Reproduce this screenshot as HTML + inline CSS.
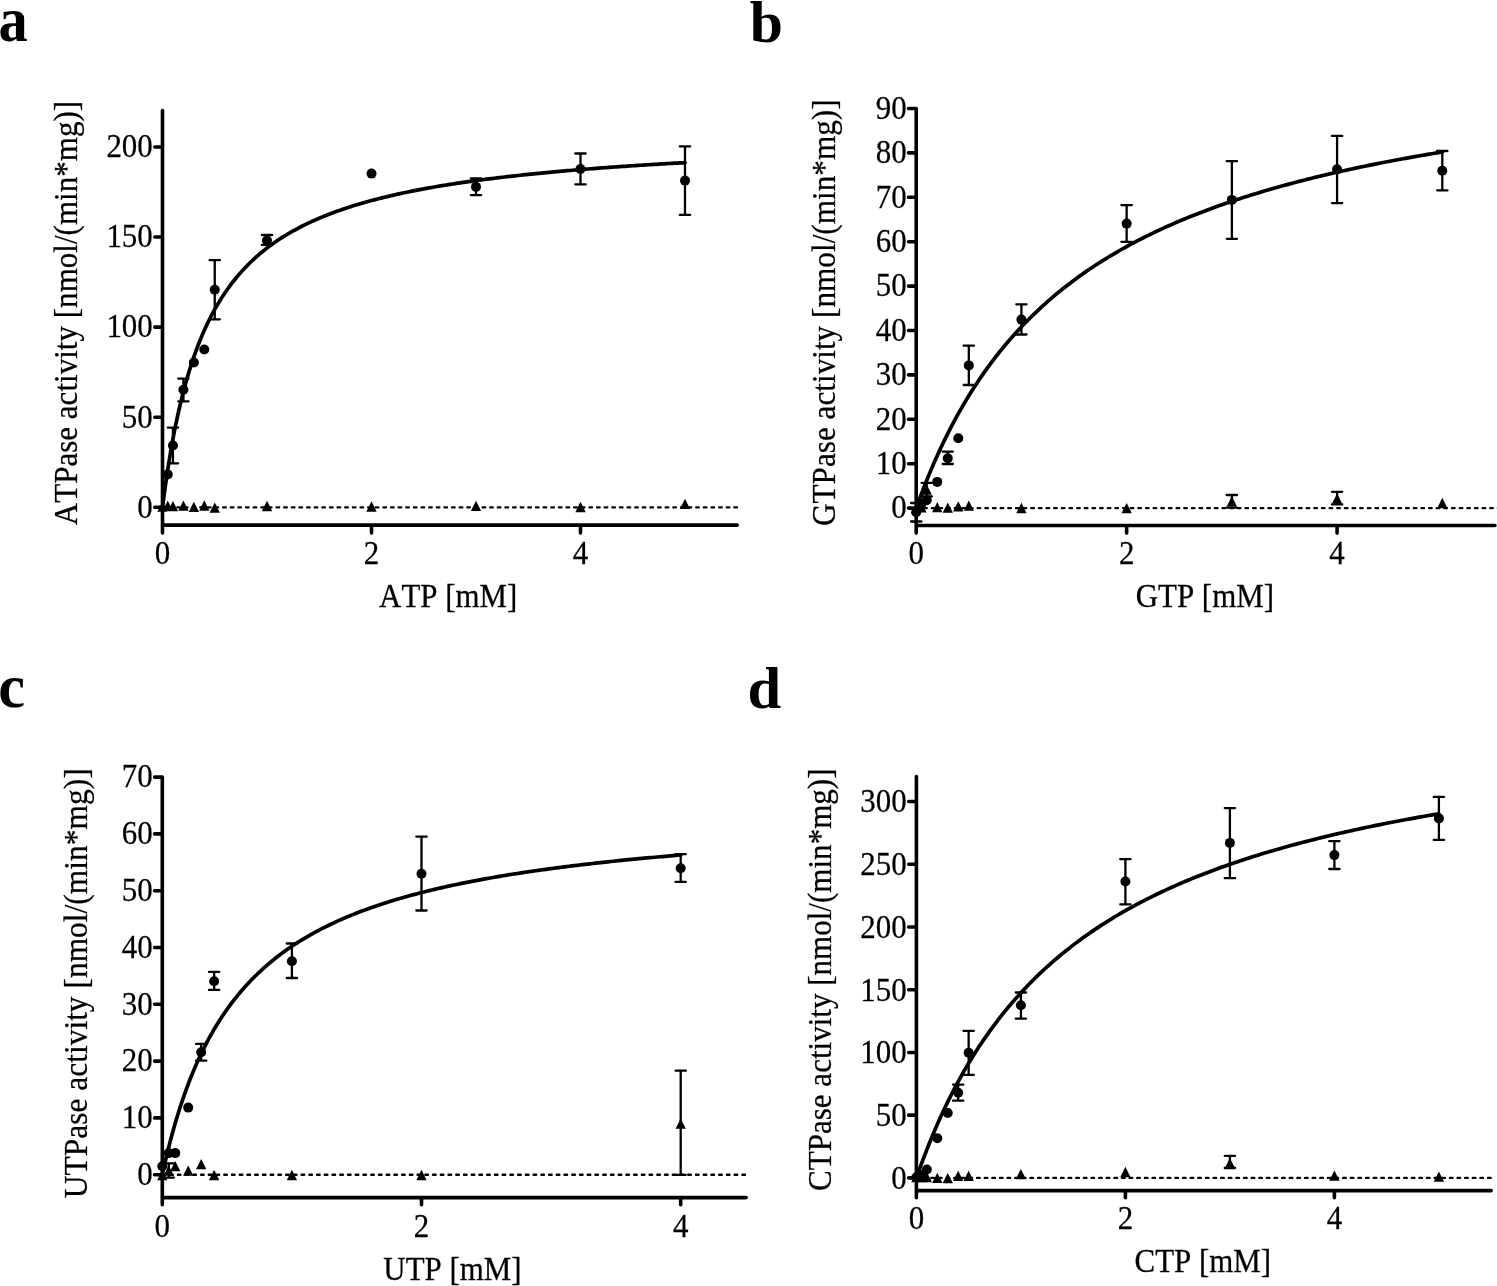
<!DOCTYPE html>
<html><head><meta charset="utf-8"><title>NTPase activity</title>
<style>
html,body{margin:0;padding:0;background:#fff;}
body{width:1497px;height:1286px;overflow:hidden;}
svg{display:block;will-change:transform;}
text{font-family:"Liberation Serif",serif;font-size:32px;fill:#000;font-kerning:none;stroke:#000;stroke-width:0.25px;}
</style></head><body>
<svg width="1497" height="1286" viewBox="0 0 1497 1286">
<rect width="1497" height="1286" fill="#fff"/>
<g id="pa">
<path d="M162.12 507.30H737.75" stroke="#000" stroke-width="2.35" stroke-dasharray="2.6 5.030" stroke-linecap="round" fill="none"/>
<path d="M162.50 110.60V533.00M162.50 525.10H737.25M154.80 507.30H162.50M154.80 417.23H162.50M154.80 327.15H162.50M154.80 237.07H162.50M154.80 147.00H162.50M162.50 525.10V533.00M371.50 525.10V533.00M580.50 525.10V533.00" stroke="#000" stroke-width="3.6" stroke-linecap="round" fill="none"/>
<text transform="translate(152.80 517.60) scale(0.967,1.05)" text-anchor="end">0</text>
<text transform="translate(152.80 427.53) scale(0.967,1.05)" text-anchor="end">50</text>
<text transform="translate(152.80 337.45) scale(0.967,1.05)" text-anchor="end">100</text>
<text transform="translate(152.80 247.38) scale(0.967,1.05)" text-anchor="end">150</text>
<text transform="translate(152.80 157.30) scale(0.967,1.05)" text-anchor="end">200</text>
<text transform="translate(162.50 564.00) scale(0.967,1.05)" text-anchor="middle">0</text>
<text transform="translate(371.50 564.00) scale(0.967,1.05)" text-anchor="middle">2</text>
<text transform="translate(580.50 564.00) scale(0.967,1.05)" text-anchor="middle">4</text>
<text transform="translate(448.20 606.50) scale(0.967,1.05)" text-anchor="middle">ATP [mM]</text>
<text transform="translate(76.90 313.05) rotate(-90) scale(0.9708,1.02)" text-anchor="middle">ATPase activity [nmol/(min*mg)]</text>
<text transform="translate(-1.40 41.40) scale(0.975,1.044)" style="font-weight:bold;font-size:60px;stroke-width:0">a</text>
<path d="M162.50 507.30L165.11 487.49L167.72 469.66L170.34 453.54L172.95 438.88L175.56 425.50L178.18 413.24L180.79 401.96L183.40 391.55L186.01 381.91L188.62 372.96L191.24 364.63L193.85 356.85L196.46 349.58L199.07 342.76L201.69 336.36L204.30 330.33L206.91 324.65L209.53 319.28L212.14 314.21L214.75 309.40L217.36 304.84L219.97 300.51L222.59 296.38L225.20 292.46L227.81 288.72L230.43 285.15L233.04 281.73L235.65 278.47L238.26 275.34L240.88 272.35L243.49 269.47L246.10 266.72L248.71 264.07L251.32 261.52L253.94 259.07L256.55 256.71L259.16 254.43L261.77 252.24L264.39 250.12L267.00 248.08L269.61 246.10L272.23 244.20L274.84 242.35L277.45 240.56L280.06 238.83L282.68 237.16L285.29 235.54L287.90 233.96L290.51 232.43L293.12 230.95L295.74 229.51L298.35 228.11L300.96 226.75L303.58 225.43L306.19 224.15L308.80 222.90L311.41 221.68L314.02 220.50L316.64 219.34L319.25 218.22L321.86 217.12L324.48 216.05L327.09 215.01L329.70 214.00L332.31 213.00L334.92 212.04L337.54 211.09L340.15 210.17L342.76 209.26L345.38 208.38L347.99 207.52L350.60 206.68L353.21 205.85L355.83 205.05L358.44 204.26L361.05 203.48L363.66 202.73L366.27 201.99L368.89 201.26L371.50 200.55L374.11 199.86L376.73 199.17L379.34 198.51L381.95 197.85L384.56 197.21L387.17 196.58L389.79 195.96L392.40 195.35L395.01 194.76L397.62 194.17L400.24 193.60L402.85 193.04L405.46 192.48L408.08 191.94L410.69 191.41L413.30 190.88L415.91 190.37L418.53 189.86L421.14 189.37L423.75 188.88L426.36 188.40L428.97 187.92L431.59 187.46L434.20 187.00L436.81 186.55L439.43 186.11L442.04 185.67L444.65 185.24L447.26 184.82L449.88 184.41L452.49 184.00L455.10 183.60L457.71 183.20L460.32 182.81L462.94 182.42L465.55 182.05L468.16 181.67L470.78 181.30L473.39 180.94L476.00 180.59L478.61 180.23L481.22 179.89L483.84 179.54L486.45 179.21L489.06 178.88L491.68 178.55L494.29 178.22L496.90 177.91L499.51 177.59L502.12 177.28L504.74 176.97L507.35 176.67L509.96 176.37L512.58 176.08L515.19 175.79L517.80 175.50L520.41 175.22L523.03 174.94L525.64 174.67L528.25 174.39L530.86 174.13L533.47 173.86L536.09 173.60L538.70 173.34L541.31 173.08L543.92 172.83L546.54 172.58L549.15 172.34L551.76 172.09L554.38 171.85L556.99 171.61L559.60 171.38L562.21 171.15L564.83 170.92L567.44 170.69L570.05 170.47L572.66 170.24L575.28 170.03L577.89 169.81L580.50 169.59L583.11 169.38L585.72 169.17L588.34 168.97L590.95 168.76L593.56 168.56L596.17 168.36L598.79 168.16L601.40 167.96L604.01 167.77L606.62 167.58L609.24 167.39L611.85 167.20L614.46 167.01L617.08 166.83L619.69 166.65L622.30 166.47L624.91 166.29L627.53 166.11L630.14 165.94L632.75 165.76L635.36 165.59L637.97 165.42L640.59 165.26L643.20 165.09L645.81 164.93L648.42 164.76L651.04 164.60L653.65 164.44L656.26 164.28L658.88 164.13L661.49 163.97L664.10 163.82L666.71 163.66L669.33 163.51L671.94 163.36L674.55 163.22L677.16 163.07L679.77 162.92L682.39 162.78L685.00 162.64" stroke="#000" stroke-width="3.7" stroke-linecap="round" stroke-linejoin="round" fill="none"/>
<path d="M172.95 427.60V463.40M167.80 427.60h10.3M167.80 463.40h10.3M183.40 378.60V401.30M178.25 378.60h10.3M178.25 401.30h10.3M214.75 260.20V319.30M209.60 260.20h10.3M209.60 319.30h10.3M267.00 235.00V244.80M261.85 235.00h10.3M261.85 244.80h10.3M476.00 178.50V195.10M470.85 178.50h10.3M470.85 195.10h10.3M580.50 153.50V184.40M575.35 153.50h10.3M575.35 184.40h10.3M685.00 146.40V214.90M679.85 146.40h10.3M679.85 214.90h10.3" stroke="#000" stroke-width="2.3" stroke-linecap="round" fill="none"/>
<circle cx="167.72" cy="474.40" r="5.0"/>
<circle cx="172.95" cy="445.50" r="5.0"/>
<circle cx="183.40" cy="389.80" r="5.0"/>
<circle cx="193.85" cy="362.50" r="5.0"/>
<circle cx="204.30" cy="349.50" r="5.0"/>
<circle cx="214.75" cy="289.80" r="5.0"/>
<circle cx="267.00" cy="240.50" r="5.0"/>
<circle cx="371.50" cy="173.60" r="5.0"/>
<circle cx="476.00" cy="186.90" r="5.0"/>
<circle cx="580.50" cy="169.00" r="5.0"/>
<circle cx="685.00" cy="180.60" r="5.0"/>
<path d="M157.35 511.65L167.65 511.65L162.50 501.35Z"/>
<path d="M162.57 510.85L172.88 510.85L167.72 500.55Z"/>
<path d="M167.80 511.35L178.10 511.35L172.95 501.05Z"/>
<path d="M178.25 510.75L188.55 510.75L183.40 500.45Z"/>
<path d="M188.70 512.05L199.00 512.05L193.85 501.75Z"/>
<path d="M199.15 510.65L209.45 510.65L204.30 500.35Z"/>
<path d="M209.60 512.85L219.90 512.85L214.75 502.55Z"/>
<path d="M261.85 511.15L272.15 511.15L267.00 500.85Z"/>
<path d="M366.35 511.65L376.65 511.65L371.50 501.35Z"/>
<path d="M470.85 511.05L481.15 511.05L476.00 500.75Z"/>
<path d="M575.35 512.15L585.65 512.15L580.50 501.85Z"/>
<path d="M679.85 509.05L690.15 509.05L685.00 498.75Z"/>
</g>
<g id="pb">
<path d="M916.50 508.10H1497.91" stroke="#000" stroke-width="2.35" stroke-dasharray="2.6 5.050" stroke-linecap="round" fill="none"/>
<path d="M916.20 108.50V533.10M916.20 525.45H1494.91M908.50 508.10H916.20M908.50 463.70H916.20M908.50 419.30H916.20M908.50 374.90H916.20M908.50 330.50H916.20M908.50 286.10H916.20M908.50 241.70H916.20M908.50 197.30H916.20M908.50 152.90H916.20M908.50 108.50H916.20M916.20 525.45V533.10M1126.64 525.45V533.10M1337.08 525.45V533.10" stroke="#000" stroke-width="3.6" stroke-linecap="round" fill="none"/>
<text transform="translate(906.60 518.40) scale(0.967,1.05)" text-anchor="end">0</text>
<text transform="translate(906.60 474.00) scale(0.967,1.05)" text-anchor="end">10</text>
<text transform="translate(906.60 429.60) scale(0.967,1.05)" text-anchor="end">20</text>
<text transform="translate(906.60 385.20) scale(0.967,1.05)" text-anchor="end">30</text>
<text transform="translate(906.60 340.80) scale(0.967,1.05)" text-anchor="end">40</text>
<text transform="translate(906.60 296.40) scale(0.967,1.05)" text-anchor="end">50</text>
<text transform="translate(906.60 252.00) scale(0.967,1.05)" text-anchor="end">60</text>
<text transform="translate(906.60 207.60) scale(0.967,1.05)" text-anchor="end">70</text>
<text transform="translate(906.60 163.20) scale(0.967,1.05)" text-anchor="end">80</text>
<text transform="translate(906.60 118.80) scale(0.967,1.05)" text-anchor="end">90</text>
<text transform="translate(916.20 564.40) scale(0.967,1.05)" text-anchor="middle">0</text>
<text transform="translate(1126.64 564.40) scale(0.967,1.05)" text-anchor="middle">2</text>
<text transform="translate(1337.08 564.40) scale(0.967,1.05)" text-anchor="middle">4</text>
<text transform="translate(1204.85 606.76) scale(0.967,1.05)" text-anchor="middle">GTP [mM]</text>
<text transform="translate(835.40 312.74) rotate(-90) scale(0.9762,1.02)" text-anchor="middle">GTPase activity [nmol/(min*mg)]</text>
<text transform="translate(749.75 42.00) scale(0.995,0.991)" style="font-weight:bold;font-size:60px;stroke-width:0">b</text>
<path d="M916.20 508.10L918.83 500.83L921.46 493.78L924.09 486.95L926.72 480.31L929.35 473.87L931.98 467.62L934.61 461.54L937.24 455.63L939.87 449.89L942.50 444.30L945.14 438.86L947.77 433.57L950.40 428.41L953.03 423.39L955.66 418.49L958.29 413.72L960.92 409.07L963.55 404.53L966.18 400.10L968.81 395.77L971.44 391.55L974.07 387.43L976.70 383.40L979.33 379.46L981.96 375.62L984.59 371.86L987.22 368.18L989.85 364.58L992.48 361.06L995.12 357.62L997.75 354.24L1000.38 350.94L1003.01 347.71L1005.64 344.54L1008.27 341.44L1010.90 338.40L1013.53 335.42L1016.16 332.50L1018.79 329.64L1021.42 326.83L1024.05 324.08L1026.68 321.37L1029.31 318.72L1031.94 316.12L1034.57 313.56L1037.20 311.06L1039.83 308.59L1042.46 306.17L1045.09 303.80L1047.73 301.47L1050.36 299.17L1052.99 296.92L1055.62 294.70L1058.25 292.53L1060.88 290.39L1063.51 288.28L1066.14 286.21L1068.77 284.18L1071.40 282.18L1074.03 280.21L1076.66 278.27L1079.29 276.36L1081.92 274.48L1084.55 272.64L1087.18 270.82L1089.81 269.03L1092.44 267.26L1095.07 265.53L1097.70 263.82L1100.34 262.13L1102.97 260.47L1105.60 258.84L1108.23 257.23L1110.86 255.64L1113.49 254.07L1116.12 252.53L1118.75 251.01L1121.38 249.51L1124.01 248.03L1126.64 246.57L1129.27 245.14L1131.90 243.72L1134.53 242.32L1137.16 240.94L1139.79 239.58L1142.42 238.24L1145.05 236.91L1147.68 235.61L1150.31 234.32L1152.95 233.04L1155.58 231.79L1158.21 230.55L1160.84 229.32L1163.47 228.11L1166.10 226.92L1168.73 225.74L1171.36 224.57L1173.99 223.42L1176.62 222.29L1179.25 221.17L1181.88 220.06L1184.51 218.96L1187.14 217.88L1189.77 216.81L1192.40 215.76L1195.03 214.71L1197.66 213.68L1200.29 212.66L1202.92 211.65L1205.56 210.66L1208.19 209.67L1210.82 208.70L1213.45 207.74L1216.08 206.79L1218.71 205.85L1221.34 204.92L1223.97 204.00L1226.60 203.09L1229.23 202.19L1231.86 201.30L1234.49 200.42L1237.12 199.54L1239.75 198.68L1242.38 197.83L1245.01 196.99L1247.64 196.15L1250.27 195.33L1252.90 194.51L1255.53 193.70L1258.16 192.90L1260.80 192.11L1263.43 191.32L1266.06 190.55L1268.69 189.78L1271.32 189.02L1273.95 188.27L1276.58 187.52L1279.21 186.78L1281.84 186.05L1284.47 185.33L1287.10 184.61L1289.73 183.90L1292.36 183.20L1294.99 182.51L1297.62 181.82L1300.25 181.13L1302.88 180.46L1305.51 179.79L1308.14 179.13L1310.78 178.47L1313.41 177.82L1316.04 177.17L1318.67 176.53L1321.30 175.90L1323.93 175.27L1326.56 174.65L1329.19 174.04L1331.82 173.42L1334.45 172.82L1337.08 172.22L1339.71 171.63L1342.34 171.04L1344.97 170.45L1347.60 169.87L1350.23 169.30L1352.86 168.73L1355.49 168.17L1358.12 167.61L1360.75 167.06L1363.38 166.51L1366.02 165.96L1368.65 165.42L1371.28 164.89L1373.91 164.36L1376.54 163.83L1379.17 163.31L1381.80 162.79L1384.43 162.28L1387.06 161.77L1389.69 161.26L1392.32 160.76L1394.95 160.27L1397.58 159.77L1400.21 159.28L1402.84 158.80L1405.47 158.32L1408.10 157.84L1410.73 157.37L1413.36 156.90L1416.00 156.43L1418.63 155.97L1421.26 155.51L1423.89 155.06L1426.52 154.61L1429.15 154.16L1431.78 153.71L1434.41 153.27L1437.04 152.84L1439.67 152.40L1442.30 151.97" stroke="#000" stroke-width="3.7" stroke-linecap="round" stroke-linejoin="round" fill="none"/>
<path d="M916.20 503.00V521.50M911.05 503.00h10.3M911.05 521.50h10.3M947.77 451.60V464.00M942.62 451.60h10.3M942.62 464.00h10.3M968.81 345.70V385.00M963.66 345.70h10.3M963.66 385.00h10.3M1021.42 304.30V334.50M1016.27 304.30h10.3M1016.27 334.50h10.3M1126.64 205.20V241.90M1121.49 205.20h10.3M1121.49 241.90h10.3M1231.86 161.20V238.80M1226.71 161.20h10.3M1226.71 238.80h10.3M1337.08 135.90V203.10M1331.93 135.90h10.3M1331.93 203.10h10.3M1442.30 151.00V190.40M1437.15 151.00h10.3M1437.15 190.40h10.3M926.72 482.90V496.50M921.57 482.90h10.3M921.57 496.50h10.3M1231.86 495.00V507.60M1226.71 495.00h10.3M1226.71 507.60h10.3M1337.08 491.80V504.40M1331.93 491.80h10.3M1331.93 504.40h10.3" stroke="#000" stroke-width="2.3" stroke-linecap="round" fill="none"/>
<circle cx="916.20" cy="512.20" r="5.0"/>
<circle cx="921.46" cy="504.00" r="5.0"/>
<circle cx="926.72" cy="500.30" r="5.0"/>
<circle cx="937.24" cy="481.90" r="5.0"/>
<circle cx="947.77" cy="458.20" r="5.0"/>
<circle cx="958.29" cy="438.20" r="5.0"/>
<circle cx="968.81" cy="365.40" r="5.0"/>
<circle cx="1021.42" cy="319.60" r="5.0"/>
<circle cx="1126.64" cy="223.60" r="5.0"/>
<circle cx="1231.86" cy="199.90" r="5.0"/>
<circle cx="1337.08" cy="169.30" r="5.0"/>
<circle cx="1442.30" cy="170.70" r="5.0"/>
<path d="M911.05 513.15L921.35 513.15L916.20 502.85Z"/>
<path d="M916.31 512.45L926.61 512.45L921.46 502.15Z"/>
<path d="M921.57 494.85L931.87 494.85L926.72 484.55Z"/>
<path d="M932.09 512.25L942.39 512.25L937.24 501.95Z"/>
<path d="M942.62 512.85L952.92 512.85L947.77 502.55Z"/>
<path d="M953.14 511.45L963.44 511.45L958.29 501.15Z"/>
<path d="M963.66 510.75L973.96 510.75L968.81 500.45Z"/>
<path d="M1016.27 513.15L1026.57 513.15L1021.42 502.85Z"/>
<path d="M1121.49 513.21L1131.79 513.21L1126.64 502.91Z"/>
<path d="M1226.71 506.45L1237.01 506.45L1231.86 496.15Z"/>
<path d="M1331.93 503.75L1342.23 503.75L1337.08 493.45Z"/>
<path d="M1437.15 508.15L1447.45 508.15L1442.30 497.85Z"/>
</g>
<g id="pc">
<path d="M162.40 1174.70H746.10" stroke="#000" stroke-width="2.35" stroke-dasharray="2.6 5.133" stroke-linecap="round" fill="none"/>
<path d="M162.30 777.00V1204.80M162.30 1197.60H746.10M154.60 1174.70H162.30M154.60 1117.90H162.30M154.60 1061.10H162.30M154.60 1004.30H162.30M154.60 947.50H162.30M154.60 890.70H162.30M154.60 833.90H162.30M154.60 777.10H162.30M162.30 1197.60V1204.80M421.50 1197.60V1204.80M680.70 1197.60V1204.80" stroke="#000" stroke-width="3.6" stroke-linecap="round" fill="none"/>
<text transform="translate(152.80 1185.00) scale(0.967,1.05)" text-anchor="end">0</text>
<text transform="translate(152.80 1128.20) scale(0.967,1.05)" text-anchor="end">10</text>
<text transform="translate(152.80 1071.40) scale(0.967,1.05)" text-anchor="end">20</text>
<text transform="translate(152.80 1014.60) scale(0.967,1.05)" text-anchor="end">30</text>
<text transform="translate(152.80 957.80) scale(0.967,1.05)" text-anchor="end">40</text>
<text transform="translate(152.80 901.00) scale(0.967,1.05)" text-anchor="end">50</text>
<text transform="translate(152.80 844.20) scale(0.967,1.05)" text-anchor="end">60</text>
<text transform="translate(152.80 787.40) scale(0.967,1.05)" text-anchor="end">70</text>
<text transform="translate(162.30 1236.50) scale(0.967,1.05)" text-anchor="middle">0</text>
<text transform="translate(421.50 1236.50) scale(0.967,1.05)" text-anchor="middle">2</text>
<text transform="translate(680.70 1236.50) scale(0.967,1.05)" text-anchor="middle">4</text>
<text transform="translate(452.50 1279.50) scale(0.967,1.05)" text-anchor="middle">UTP [mM]</text>
<text transform="translate(86.60 983.30) rotate(-90) scale(0.9833,1.02)" text-anchor="middle">UTPase activity [nmol/(min*mg)]</text>
<text transform="translate(-1.80 707.30) scale(1.005,1.022)" style="font-weight:bold;font-size:60px;stroke-width:0">c</text>
<path d="M162.30 1174.70L164.89 1163.08L167.48 1152.16L170.08 1141.89L172.67 1132.22L175.26 1123.08L177.85 1114.45L180.44 1106.27L183.04 1098.51L185.63 1091.15L188.22 1084.14L190.81 1077.47L193.40 1071.12L196.00 1065.05L198.59 1059.26L201.18 1053.72L203.77 1048.41L206.36 1043.33L208.96 1038.46L211.55 1033.78L214.14 1029.29L216.73 1024.97L219.32 1020.81L221.92 1016.81L224.51 1012.96L227.10 1009.24L229.69 1005.66L232.28 1002.20L234.88 998.86L237.47 995.62L240.06 992.50L242.65 989.48L245.24 986.55L247.84 983.72L250.43 980.97L253.02 978.30L255.61 975.72L258.20 973.21L260.80 970.78L263.39 968.41L265.98 966.12L268.57 963.88L271.16 961.71L273.76 959.60L276.35 957.54L278.94 955.54L281.53 953.59L284.12 951.69L286.72 949.83L289.31 948.03L291.90 946.27L294.49 944.55L297.08 942.87L299.68 941.24L302.27 939.64L304.86 938.08L307.45 936.56L310.04 935.07L312.64 933.61L315.23 932.19L317.82 930.80L320.41 929.43L323.00 928.10L325.60 926.80L328.19 925.52L330.78 924.27L333.37 923.05L335.96 921.85L338.56 920.68L341.15 919.52L343.74 918.40L346.33 917.29L348.92 916.21L351.52 915.14L354.11 914.10L356.70 913.08L359.29 912.07L361.88 911.09L364.48 910.12L367.07 909.17L369.66 908.24L372.25 907.32L374.84 906.42L377.44 905.54L380.03 904.67L382.62 903.81L385.21 902.98L387.80 902.15L390.40 901.34L392.99 900.54L395.58 899.76L398.17 898.99L400.76 898.23L403.36 897.48L405.95 896.75L408.54 896.03L411.13 895.32L413.72 894.62L416.32 893.93L418.91 893.25L421.50 892.58L424.09 891.92L426.68 891.27L429.28 890.63L431.87 890.01L434.46 889.39L437.05 888.78L439.64 888.17L442.24 887.58L444.83 887.00L447.42 886.42L450.01 885.85L452.60 885.29L455.20 884.74L457.79 884.19L460.38 883.66L462.97 883.13L465.56 882.60L468.16 882.09L470.75 881.58L473.34 881.08L475.93 880.58L478.52 880.09L481.12 879.61L483.71 879.13L486.30 878.66L488.89 878.20L491.48 877.74L494.08 877.29L496.67 876.84L499.26 876.40L501.85 875.96L504.44 875.53L507.04 875.11L509.63 874.69L512.22 874.27L514.81 873.86L517.40 873.46L520.00 873.06L522.59 872.66L525.18 872.27L527.77 871.88L530.36 871.50L532.96 871.12L535.55 870.75L538.14 870.38L540.73 870.02L543.32 869.66L545.92 869.30L548.51 868.95L551.10 868.60L553.69 868.25L556.28 867.91L558.88 867.57L561.47 867.24L564.06 866.91L566.65 866.58L569.24 866.26L571.84 865.94L574.43 865.62L577.02 865.31L579.61 865.00L582.20 864.69L584.80 864.39L587.39 864.09L589.98 863.79L592.57 863.50L595.16 863.21L597.76 862.92L600.35 862.63L602.94 862.35L605.53 862.07L608.12 861.79L610.72 861.52L613.31 861.25L615.90 860.98L618.49 860.71L621.08 860.45L623.68 860.19L626.27 859.93L628.86 859.67L631.45 859.42L634.04 859.17L636.64 858.92L639.23 858.67L641.82 858.42L644.41 858.18L647.00 857.94L649.60 857.70L652.19 857.47L654.78 857.24L657.37 857.00L659.96 856.77L662.56 856.55L665.15 856.32L667.74 856.10L670.33 855.88L672.92 855.66L675.52 855.44L678.11 855.22L680.70 855.01" stroke="#000" stroke-width="3.7" stroke-linecap="round" stroke-linejoin="round" fill="none"/>
<path d="M201.18 1043.90V1060.70M196.03 1043.90h10.3M196.03 1060.70h10.3M214.14 971.90V989.90M208.99 971.90h10.3M208.99 989.90h10.3M291.90 943.50V978.00M286.75 943.50h10.3M286.75 978.00h10.3M421.50 836.70V910.50M416.35 836.70h10.3M416.35 910.50h10.3M680.70 854.10V881.90M675.55 854.10h10.3M675.55 881.90h10.3M680.70 1070.70V1174.80M675.55 1070.70h10.3M675.55 1174.80h10.3M168.78 1163.40V1177.60M163.63 1163.40h10.3M163.63 1177.60h10.3" stroke="#000" stroke-width="2.3" stroke-linecap="round" fill="none"/>
<circle cx="162.30" cy="1166.30" r="5.0"/>
<circle cx="168.78" cy="1153.10" r="5.0"/>
<circle cx="175.26" cy="1153.10" r="5.0"/>
<circle cx="188.22" cy="1107.60" r="5.0"/>
<circle cx="201.18" cy="1052.30" r="5.0"/>
<circle cx="214.14" cy="981.30" r="5.0"/>
<circle cx="291.90" cy="961.20" r="5.0"/>
<circle cx="421.50" cy="873.70" r="5.0"/>
<circle cx="680.70" cy="868.20" r="5.0"/>
<path d="M157.15 1180.15L167.45 1180.15L162.30 1169.85Z"/>
<path d="M163.63 1175.65L173.93 1175.65L168.78 1165.35Z"/>
<path d="M170.11 1171.25L180.41 1171.25L175.26 1160.95Z"/>
<path d="M183.07 1175.85L193.37 1175.85L188.22 1165.55Z"/>
<path d="M196.03 1169.35L206.33 1169.35L201.18 1159.05Z"/>
<path d="M208.99 1180.15L219.29 1180.15L214.14 1169.85Z"/>
<path d="M286.75 1180.15L297.05 1180.15L291.90 1169.85Z"/>
<path d="M416.35 1180.15L426.65 1180.15L421.50 1169.85Z"/>
<path d="M675.55 1128.85L685.85 1128.85L680.70 1118.55Z"/>
</g>
<g id="pd">
<path d="M916.10 1177.90H1493.55" stroke="#000" stroke-width="2.35" stroke-dasharray="2.6 5.026" stroke-linecap="round" fill="none"/>
<path d="M916.40 776.60V1197.80M916.40 1190.60H1491.15M908.70 1177.90H916.40M908.70 1115.17H916.40M908.70 1052.43H916.40M908.70 989.70H916.40M908.70 926.96H916.40M908.70 864.23H916.40M908.70 801.49H916.40M916.40 1190.60V1197.80M1125.40 1190.60V1197.80M1334.40 1190.60V1197.80" stroke="#000" stroke-width="3.6" stroke-linecap="round" fill="none"/>
<text transform="translate(906.60 1188.70) scale(0.967,1.05)" text-anchor="end">0</text>
<text transform="translate(906.60 1125.97) scale(0.967,1.05)" text-anchor="end">50</text>
<text transform="translate(906.60 1063.23) scale(0.967,1.05)" text-anchor="end">100</text>
<text transform="translate(906.60 1000.50) scale(0.967,1.05)" text-anchor="end">150</text>
<text transform="translate(906.60 937.76) scale(0.967,1.05)" text-anchor="end">200</text>
<text transform="translate(906.60 875.03) scale(0.967,1.05)" text-anchor="end">250</text>
<text transform="translate(906.60 812.29) scale(0.967,1.05)" text-anchor="end">300</text>
<text transform="translate(916.40 1228.70) scale(0.967,1.05)" text-anchor="middle">0</text>
<text transform="translate(1125.40 1228.70) scale(0.967,1.05)" text-anchor="middle">2</text>
<text transform="translate(1334.40 1228.70) scale(0.967,1.05)" text-anchor="middle">4</text>
<text transform="translate(1202.85 1271.50) scale(0.967,1.05)" text-anchor="middle">CTP [mM]</text>
<text transform="translate(830.80 979.75) rotate(-90) scale(0.9706,1.02)" text-anchor="middle">CTPase activity [nmol/(min*mg)]</text>
<text transform="translate(747.55 707.65) scale(1.0095,0.991)" style="font-weight:bold;font-size:60px;stroke-width:0">d</text>
<path d="M916.40 1177.90L919.01 1170.49L921.62 1163.30L924.24 1156.33L926.85 1149.56L929.46 1142.99L932.07 1136.61L934.69 1130.41L937.30 1124.38L939.91 1118.52L942.52 1112.82L945.14 1107.27L947.75 1101.86L950.36 1096.60L952.98 1091.47L955.59 1086.47L958.20 1081.60L960.81 1076.85L963.42 1072.21L966.04 1067.69L968.65 1063.27L971.26 1058.96L973.88 1054.75L976.49 1050.63L979.10 1046.61L981.71 1042.68L984.32 1038.84L986.94 1035.08L989.55 1031.40L992.16 1027.81L994.77 1024.29L997.39 1020.84L1000.00 1017.47L1002.61 1014.16L1005.23 1010.92L1007.84 1007.75L1010.45 1004.65L1013.06 1001.60L1015.67 998.61L1018.29 995.69L1020.90 992.81L1023.51 990.00L1026.12 987.23L1028.74 984.52L1031.35 981.86L1033.96 979.25L1036.58 976.68L1039.19 974.16L1041.80 971.69L1044.41 969.26L1047.03 966.87L1049.64 964.53L1052.25 962.22L1054.86 959.96L1057.47 957.73L1060.09 955.54L1062.70 953.39L1065.31 951.27L1067.92 949.19L1070.54 947.14L1073.15 945.12L1075.76 943.14L1078.38 941.19L1080.99 939.27L1083.60 937.37L1086.21 935.51L1088.83 933.68L1091.44 931.88L1094.05 930.10L1096.66 928.35L1099.28 926.62L1101.89 924.92L1104.50 923.25L1107.11 921.60L1109.72 919.97L1112.34 918.37L1114.95 916.79L1117.56 915.24L1120.17 913.70L1122.79 912.19L1125.40 910.70L1128.01 909.22L1130.62 907.77L1133.24 906.34L1135.85 904.93L1138.46 903.54L1141.08 902.16L1143.69 900.80L1146.30 899.47L1148.91 898.14L1151.53 896.84L1154.14 895.55L1156.75 894.28L1159.36 893.03L1161.97 891.79L1164.59 890.57L1167.20 889.36L1169.81 888.17L1172.42 886.99L1175.04 885.83L1177.65 884.68L1180.26 883.54L1182.88 882.42L1185.49 881.31L1188.10 880.22L1190.71 879.14L1193.33 878.07L1195.94 877.01L1198.55 875.97L1201.16 874.93L1203.78 873.91L1206.39 872.90L1209.00 871.91L1211.61 870.92L1214.22 869.95L1216.84 868.98L1219.45 868.03L1222.06 867.09L1224.67 866.15L1227.29 865.23L1229.90 864.32L1232.51 863.42L1235.12 862.53L1237.74 861.64L1240.35 860.77L1242.96 859.91L1245.58 859.05L1248.19 858.20L1250.80 857.37L1253.41 856.54L1256.03 855.72L1258.64 854.91L1261.25 854.10L1263.86 853.31L1266.47 852.52L1269.09 851.74L1271.70 850.97L1274.31 850.21L1276.92 849.45L1279.54 848.70L1282.15 847.96L1284.76 847.23L1287.38 846.50L1289.99 845.78L1292.60 845.07L1295.21 844.36L1297.83 843.66L1300.44 842.97L1303.05 842.28L1305.66 841.60L1308.28 840.93L1310.89 840.26L1313.50 839.60L1316.11 838.94L1318.72 838.29L1321.34 837.65L1323.95 837.01L1326.56 836.38L1329.17 835.76L1331.79 835.14L1334.40 834.52L1337.01 833.91L1339.62 833.31L1342.24 832.71L1344.85 832.12L1347.46 831.53L1350.08 830.95L1352.69 830.37L1355.30 829.80L1357.91 829.23L1360.53 828.67L1363.14 828.11L1365.75 827.55L1368.36 827.01L1370.97 826.46L1373.59 825.92L1376.20 825.39L1378.81 824.86L1381.42 824.33L1384.04 823.81L1386.65 823.29L1389.26 822.78L1391.88 822.27L1394.49 821.76L1397.10 821.26L1399.71 820.76L1402.33 820.27L1404.94 819.78L1407.55 819.30L1410.16 818.82L1412.78 818.34L1415.39 817.86L1418.00 817.39L1420.61 816.93L1423.22 816.46L1425.84 816.01L1428.45 815.55L1431.06 815.10L1433.67 814.65L1436.29 814.20L1438.90 813.76" stroke="#000" stroke-width="3.7" stroke-linecap="round" stroke-linejoin="round" fill="none"/>
<path d="M958.20 1084.60V1100.70M953.05 1084.60h10.3M953.05 1100.70h10.3M968.65 1030.90V1074.90M963.50 1030.90h10.3M963.50 1074.90h10.3M1020.90 992.50V1018.60M1015.75 992.50h10.3M1015.75 1018.60h10.3M1125.40 859.20V904.30M1120.25 859.20h10.3M1120.25 904.30h10.3M1229.90 808.10V878.20M1224.75 808.10h10.3M1224.75 878.20h10.3M1334.40 841.20V869.00M1329.25 841.20h10.3M1329.25 869.00h10.3M1438.90 796.90V839.90M1433.75 796.90h10.3M1433.75 839.90h10.3M1229.90 1155.80V1168.00M1224.75 1155.80h10.3M1224.75 1168.00h10.3" stroke="#000" stroke-width="2.3" stroke-linecap="round" fill="none"/>
<circle cx="916.40" cy="1177.30" r="5.0"/>
<circle cx="921.62" cy="1175.00" r="5.0"/>
<circle cx="926.85" cy="1169.50" r="5.0"/>
<circle cx="937.30" cy="1138.20" r="5.0"/>
<circle cx="947.75" cy="1113.00" r="5.0"/>
<circle cx="958.20" cy="1092.80" r="5.0"/>
<circle cx="968.65" cy="1052.70" r="5.0"/>
<circle cx="1020.90" cy="1005.30" r="5.0"/>
<circle cx="1125.40" cy="881.50" r="5.0"/>
<circle cx="1229.90" cy="842.90" r="5.0"/>
<circle cx="1334.40" cy="855.10" r="5.0"/>
<circle cx="1438.90" cy="818.40" r="5.0"/>
<path d="M911.25 1182.25L921.55 1182.25L916.40 1171.95Z"/>
<path d="M916.48 1182.25L926.77 1182.25L921.62 1171.95Z"/>
<path d="M921.70 1182.15L932.00 1182.15L926.85 1171.85Z"/>
<path d="M932.15 1183.05L942.45 1183.05L937.30 1172.75Z"/>
<path d="M942.60 1183.35L952.90 1183.35L947.75 1173.05Z"/>
<path d="M953.05 1180.95L963.35 1180.95L958.20 1170.65Z"/>
<path d="M963.50 1180.95L973.80 1180.95L968.65 1170.65Z"/>
<path d="M1015.75 1179.35L1026.05 1179.35L1020.90 1169.05Z"/>
<path d="M1120.25 1177.15L1130.55 1177.15L1125.40 1166.85Z"/>
<path d="M1224.75 1168.35L1235.05 1168.35L1229.90 1158.05Z"/>
<path d="M1329.25 1180.85L1339.55 1180.85L1334.40 1170.55Z"/>
<path d="M1433.75 1181.85L1444.05 1181.85L1438.90 1171.55Z"/>
</g>
</svg>
</body></html>
